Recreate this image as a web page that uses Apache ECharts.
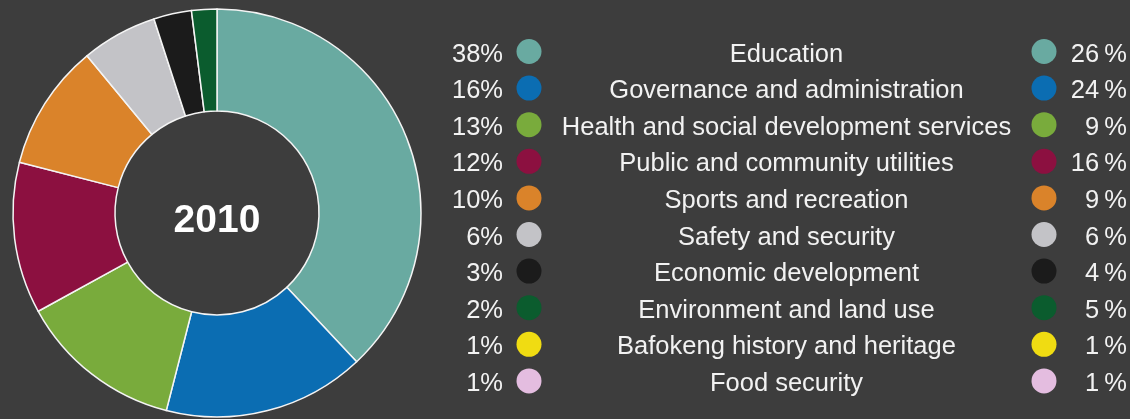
<!DOCTYPE html>
<html>
<head>
<meta charset="utf-8">
<script src="https://cdn.jsdelivr.net/npm/echarts@6/dist/echarts.min.js"></script>
<style>
  html, body { margin: 0; padding: 0; background: #3d3d3d; }
  #chart { width: 1130px; height: 419px; }
</style>
</head>
<body>
<div id="chart"></div>
<script>
// Spending categories, in ring order (clockwise from 12 o'clock)
const categories = [
  'Education',
  'Governance and administration',
  'Health and social development services',
  'Public and community utilities',
  'Sports and recreation',
  'Safety and security',
  'Economic development',
  'Environment and land use',
  'Bafokeng history and heritage',
  'Food security'
];
// Shares for 2010 (drawn in the ring) and for the comparison year (right column)
const share2010 = [38, 16, 13, 12, 10, 6, 3, 2, 1, 1];
const shareOther = [26, 24, 9, 16, 9, 6, 4, 5, 1, 1];
const colors = ['#69aaa1', '#0b6db2', '#79ab3c', '#8c1040', '#da832a',
                '#c3c3c7', '#1b1b1b', '#0b5c2e', '#f0dc12', '#e4bde0'];
// The two 1% items are listed but not drawn as ring segments
const ringCount = 8;
const yearLabel = '2010';

const FONT = '"Liberation Sans", Arial, Helvetica, sans-serif';
const TEXT = '#f2f2f2';

const chart = echarts.init(document.getElementById('chart'), null, { renderer: 'canvas' });

// Legend rows: left share, dot, centred name, dot, right share
const rowTop = 53, rowStep = 36.6;
const graphics = [];
categories.forEach((name, i) => {
  const y = rowTop + i * rowStep;
  const ty = y + 1.5, dy = y - 1.5;
  graphics.push({
    type: 'text', x: 503, y: ty,
    style: { text: share2010[i] + '%', fill: TEXT, font: '25.5px ' + FONT,
             textAlign: 'right', textVerticalAlign: 'middle' }
  });
  graphics.push({
    type: 'circle', shape: { cx: 529, cy: dy, r: 12.5 },
    style: { fill: colors[i] }
  });
  graphics.push({
    type: 'text', x: 786.5, y: ty,
    style: { text: name, fill: TEXT, font: '25.5px ' + FONT,
             textAlign: 'center', textVerticalAlign: 'middle' }
  });
  graphics.push({
    type: 'circle', shape: { cx: 1044, cy: dy, r: 12.5 },
    style: { fill: colors[i] }
  });
  graphics.push({
    type: 'text', x: 1127, y: ty,
    style: { text: shareOther[i] + '\u2009%', fill: TEXT, font: '25.5px ' + FONT,
             textAlign: 'right', textVerticalAlign: 'middle' }
  });
});
graphics.push({
  type: 'text', x: 217, y: 221,
  style: { text: yearLabel, fill: '#ffffff', font: 'bold 39px ' + FONT,
           textAlign: 'center', textVerticalAlign: 'middle' }
});

chart.setOption({
  backgroundColor: '#3d3d3d',
  animation: false,
  series: [{
    type: 'pie',
    center: [217, 213],
    radius: [102, 204],
    startAngle: 90,
    clockwise: true,
    silent: true,
    label: { show: false },
    labelLine: { show: false },
    emphasis: { disabled: true },
    itemStyle: { borderColor: '#f4f4f4', borderWidth: 1.5 },
    data: categories.slice(0, ringCount).map((name, i) => ({
      name: name,
      value: share2010[i],
      itemStyle: { color: colors[i] }
    }))
  }],
  graphic: graphics
});
</script>
</body>
</html>
